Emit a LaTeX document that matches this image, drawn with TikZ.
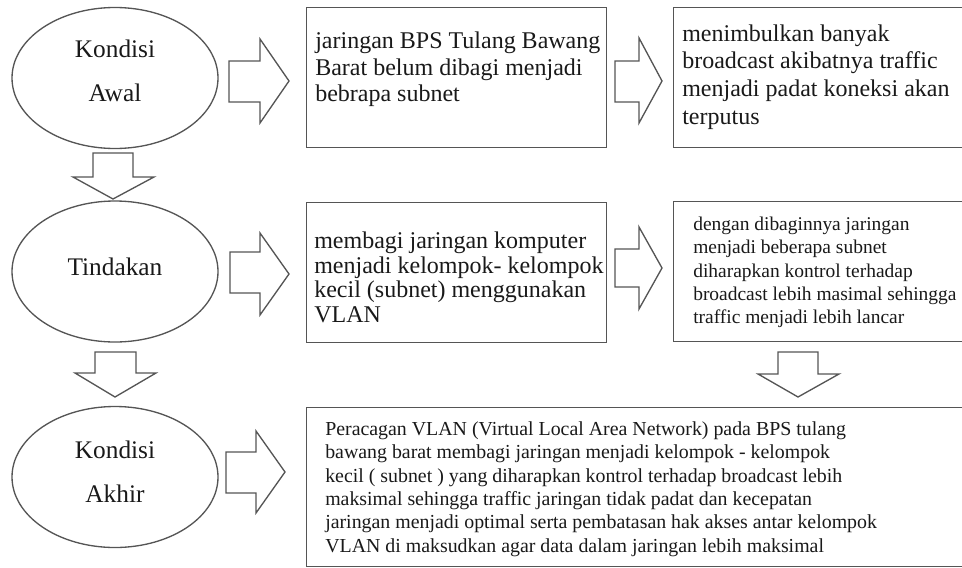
\documentclass[tikz,border=0pt]{standalone}
\usepackage{fontspec}
\setmainfont{Liberation Serif}
\usetikzlibrary{shapes.geometric}
\definecolor{garis}{RGB}{85,85,85}
\definecolor{tulisan}{RGB}{25,25,25}
\tikzset{
  elips/.style={draw=garis, line width=1pt, ellipse, minimum width=154.5pt, minimum height=105.75pt, inner sep=0pt},
  kotak/.style={draw=garis, line width=1pt, rectangle, anchor=north west, inner sep=0pt},
  panah/.style={draw=garis, line width=1pt, fill=white},
  judul/.style={inner sep=0pt, align=center, text=tulisan, font=\fontsize{19}{33.3}\selectfont},
  isi/.style={anchor=north west, inner sep=0pt, align=left, text=tulisan}
}
\begin{document}
\begin{tikzpicture}[x=0.75pt,y=0.75pt,yscale=-1,xscale=1]
        \clip (0,0) rectangle (962,567);
        \node (awal) [elips] at (115,78) {};
        \node (tindakan) [elips] at (115,271.5) {};
        \node (akhir) [elips] at (115,477) {};
        \node (kotak1) [kotak, minimum width=225pt, minimum height=105pt] at (306,7) {};
        \node (kotak2) [kotak, minimum width=226.5pt, minimum height=105pt] at (673,7) {};
        \node (kotak3) [kotak, minimum width=225pt, minimum height=105pt] at (306,202) {};
        \node (kotak4) [kotak, minimum width=226.5pt, minimum height=105pt] at (673,201) {};
        \node (kotak5) [kotak, minimum width=501.75pt, minimum height=119.25pt] at (306,407) {};
        \draw [panah] (229,61) -- (260,61) -- (260,39) -- (289,81) -- (260,123) -- (260,102) -- (229,102) -- cycle ;
        \draw [panah] (615,61) -- (639,61) -- (639,38) -- (662,81) -- (639,123) -- (639,102) -- (615,102) -- cycle ;
        \draw [panah] (230,252) -- (260,252) -- (260,233) -- (289,274) -- (260,315) -- (260,293) -- (230,293) -- cycle ;
        \draw [panah] (615,249) -- (639,249) -- (639,227) -- (662,268) -- (639,309) -- (639,287) -- (615,287) -- cycle ;
        \draw [panah] (226,452) -- (256,452) -- (256,431) -- (285,472) -- (256,513) -- (256,493) -- (226,493) -- cycle ;
        \draw [panah] (93,153) -- (133,153) -- (133,177) -- (154,177) -- (113,199) -- (73,177) -- (93,177) -- cycle ;
        \draw [panah] (95,352) -- (136,352) -- (136,373) -- (156,373) -- (115,397) -- (75,373) -- (95,373) -- cycle ;
        \draw [panah] (778,352) -- (818,352) -- (818,374) -- (839,374) -- (798,397) -- (758,374) -- (778,374) -- cycle ;
        \node (awal-t) [judul] at (115,71) {Kondisi\\Awal};
        \node (tindakan-t) [judul] at (115,266.5) {Tindakan};
        \node (akhir-t) [judul] at (115,472) {Kondisi\\Akhir};
        \node (teks1) [isi, font=\fontsize{18}{19.8}\selectfont] at (315,32) {jaringan BPS Tulang Bawang\\Barat belum dibagi menjadi\\bebrapa subnet};
        \node (teks2) [isi, font=\fontsize{18}{20.8}\selectfont] at (682,24.3) {menimbulkan banyak\\broadcast akibatnya traffic\\menjadi padat koneksi akan\\terputus};
        \node (teks3) [isi, font=\fontsize{18}{18.5}\selectfont] at (314,231.6) {membagi jaringan komputer\\menjadi kelompok- kelompok\\kecil (subnet) menggunakan\\VLAN};
        \node (teks4) [isi, font=\fontsize{14.6}{17.5}\selectfont] at (693,216.7) {dengan dibaginnya jaringan\\menjadi beberapa subnet\\diharapkan kontrol terhadap\\broadcast lebih masimal sehingga\\traffic menjadi lebih lancar};
        \node (teks5) [isi, font=\fontsize{14.9}{17.5}\selectfont] at (325,421.4) {Peracagan VLAN (Virtual Local Area Network) pada BPS tulang\\bawang barat membagi jaringan menjadi kelompok - kelompok\\kecil ( subnet ) yang diharapkan kontrol terhadap broadcast lebih\\maksimal sehingga traffic jaringan tidak padat dan kecepatan\\jaringan menjadi optimal serta pembatasan hak akses antar kelompok\\VLAN di maksudkan agar data dalam jaringan lebih maksimal};
\end{tikzpicture}
\end{document}
